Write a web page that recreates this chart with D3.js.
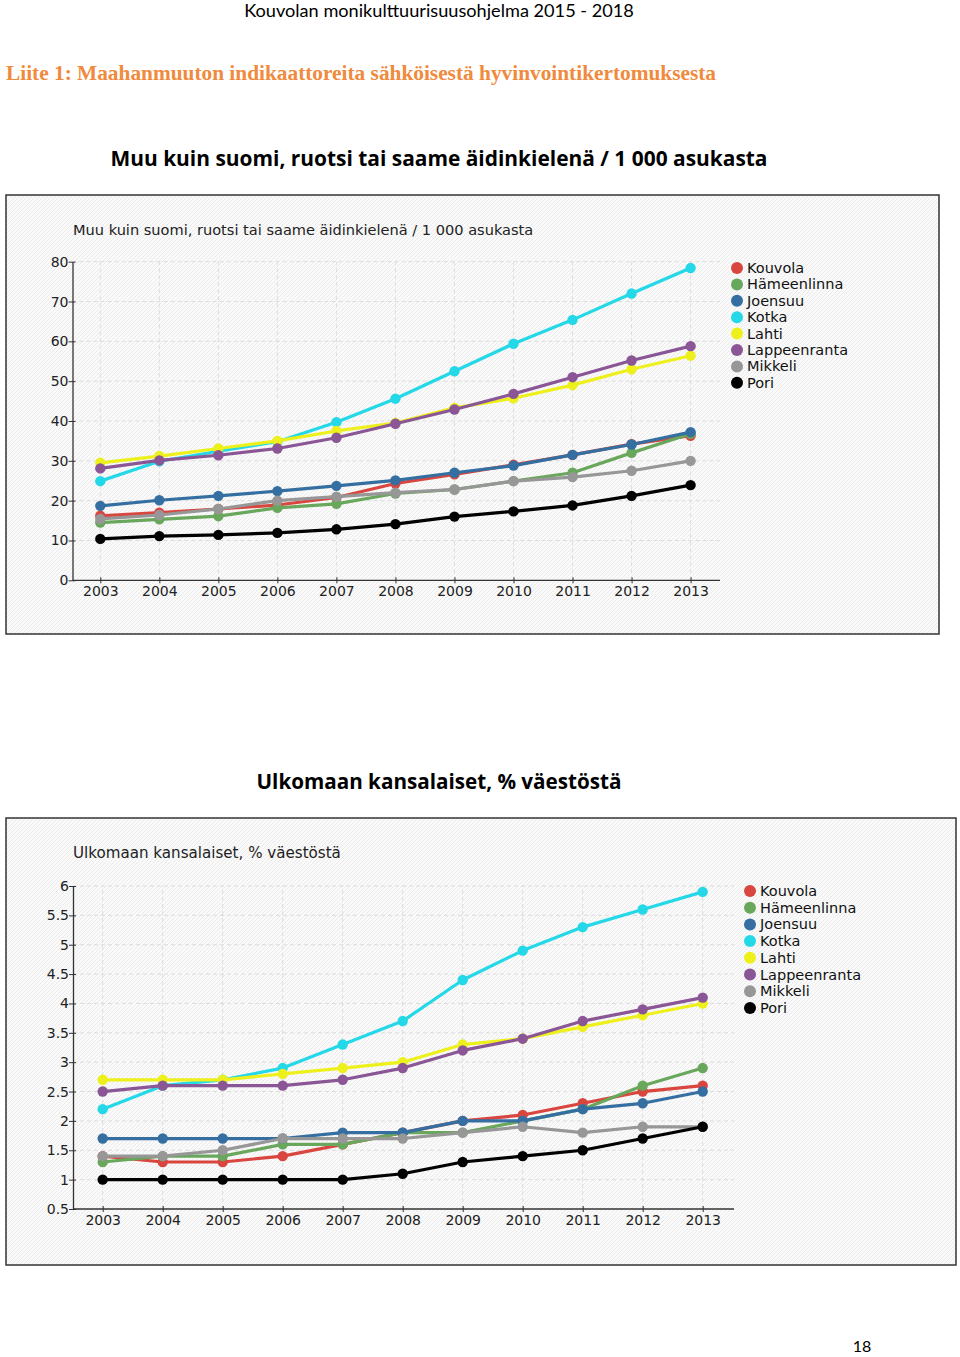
<!DOCTYPE html>
<html><head><meta charset="utf-8">
<script src="https://cdn.jsdelivr.net/npm/d3@7"></script>
<style>body{margin:0;background:#fff}svg{display:block}</style>
</head><body>
<script>
const years = [2003,2004,2005,2006,2007,2008,2009,2010,2011,2012,2013];
const cities = ["Kouvola","Hämeenlinna","Joensuu","Kotka","Lahti","Lappeenranta","Mikkeli","Pori"];
const colors = ["#d9463f","#69a75c","#356fa1","#24d8e8","#eef01c","#8a5696","#979797","#000000"];

// Chart 1: Muu kuin suomi, ruotsi tai saame äidinkielenä / 1 000 asukasta
const lang_Kouvola      = [16.2,17.0,17.9,18.9,20.8,24.3,26.6,29.0,31.5,34.2,36.3];
const lang_Hameenlinna  = [14.5,15.3,16.1,18.2,19.2,21.8,22.8,24.9,27.0,32.0,36.8];
const lang_Joensuu      = [18.7,20.1,21.2,22.4,23.7,25.1,27.0,28.8,31.5,34.1,37.2];
const lang_Kotka        = [24.9,29.9,32.4,34.8,39.7,45.6,52.5,59.4,65.4,72.0,78.4];
const lang_Lahti        = [29.5,31.2,33.1,35.0,37.5,39.5,43.3,45.7,49.0,53.0,56.4];
const lang_Lappeenranta = [28.1,30.1,31.4,33.1,35.8,39.3,42.9,46.8,51.0,55.2,58.8];
const lang_Mikkeli      = [15.4,16.4,17.9,20.0,21.0,22.0,22.8,24.9,25.9,27.5,30.0];
const lang_Pori         = [10.4,11.1,11.4,11.9,12.8,14.1,16.0,17.3,18.8,21.2,23.9];
const langTicks = [0,10,20,30,40,50,60,70,80];

// Chart 2: Ulkomaan kansalaiset, % väestöstä
const forn_Kouvola      = [1.4,1.3,1.3,1.4,1.6,1.8,2.0,2.1,2.3,2.5,2.6];
const forn_Hameenlinna  = [1.3,1.4,1.4,1.6,1.6,1.8,1.8,2.0,2.2,2.6,2.9];
const forn_Joensuu      = [1.7,1.7,1.7,1.7,1.8,1.8,2.0,2.0,2.2,2.3,2.5];
const forn_Kotka        = [2.2,2.6,2.7,2.9,3.3,3.7,4.4,4.9,5.3,5.6,5.9];
const forn_Lahti        = [2.7,2.7,2.7,2.8,2.9,3.0,3.3,3.4,3.6,3.8,4.0];
const forn_Lappeenranta = [2.5,2.6,2.6,2.6,2.7,2.9,3.2,3.4,3.7,3.9,4.1];
const forn_Mikkeli      = [1.4,1.4,1.5,1.7,1.7,1.7,1.8,1.9,1.8,1.9,1.9];
const forn_Pori         = [1.0,1.0,1.0,1.0,1.0,1.1,1.3,1.4,1.5,1.7,1.9];
const fornTicks = [0.5,1,1.5,2,2.5,3,3.5,4,4.5,5,5.5,6];

const langSeries = [lang_Kouvola,lang_Hameenlinna,lang_Joensuu,lang_Kotka,lang_Lahti,lang_Lappeenranta,lang_Mikkeli,lang_Pori];
const fornSeries = [forn_Kouvola,forn_Hameenlinna,forn_Joensuu,forn_Kotka,forn_Lahti,forn_Lappeenranta,forn_Mikkeli,forn_Pori];

const W = 960, H = 1357;
const svg = d3.select("body").append("svg").attr("width",W).attr("height",H);

const defs = svg.append("defs");
const pat = defs.append("pattern").attr("id","hatch").attr("patternUnits","userSpaceOnUse")
  .attr("width",4).attr("height",4);
pat.append("rect").attr("width",4).attr("height",4).attr("fill","#fafafa");
pat.append("path").attr("d","M-1,1 l2,-2 M0,4 l4,-4 M3,5 l2,-2").attr("stroke","#ebebeb").attr("stroke-width",1);

function fitText(t, target){
  let fs = parseFloat(t.attr("font-size"));
  for(let i=0;i<3;i++){
    const w = t.node().getComputedTextLength();
    fs = fs*target/w;
    t.attr("font-size",fs);
  }
}

// Page header texts
fitText(svg.append("text").attr("x",439).attr("y",17).attr("text-anchor","middle")
  .attr("font-family","Lato, 'Open Sans', sans-serif").attr("font-size",17).attr("fill","#000")
  .text("Kouvolan monikulttuurisuusohjelma 2015 - 2018"), 390);

fitText(svg.append("text").attr("x",6).attr("y",80)
  .attr("font-family","'Liberation Serif', serif").attr("font-weight","bold").attr("font-size",19).attr("fill","#f08a3c")
  .text("Liite 1: Maahanmuuton indikaattoreita sähköisestä hyvinvointikertomuksesta"), 710);

fitText(svg.append("text").attr("x",439).attr("y",166).attr("text-anchor","middle")
  .attr("font-family","'Open Sans', sans-serif").attr("font-weight","bold").attr("font-size",21).attr("fill","#000")
  .text("Muu kuin suomi, ruotsi tai saame äidinkielenä / 1 000 asukasta"), 657);

fitText(svg.append("text").attr("x",439).attr("y",789).attr("text-anchor","middle")
  .attr("font-family","'Open Sans', sans-serif").attr("font-weight","bold").attr("font-size",21).attr("fill","#000")
  .text("Ulkomaan kansalaiset, % väestöstä"), 365);

svg.append("text").attr("x",862).attr("y",1352).attr("text-anchor","middle")
  .attr("font-family","Lato, sans-serif").attr("font-size",16).attr("fill","#000").text("18");

function drawChart(cfg){
  const g = svg.append("g");
  g.append("rect").attr("x",cfg.frame[0]).attr("y",cfg.frame[1]).attr("width",cfg.frame[2]).attr("height",cfg.frame[3])
    .attr("fill","url(#hatch)").attr("stroke","#333").attr("stroke-width",1.5);
  const x = d3.scaleLinear().domain([years[0],years[years.length-1]]).range(cfg.xr);
  const y = d3.scaleLinear().domain([cfg.ticks[0],cfg.ticks[cfg.ticks.length-1]]).range(cfg.yr);
  const axX0 = cfg.axisX, axX1 = cfg.axisEnd;
  // title
  fitText(g.append("text").attr("x",cfg.frame[0]+67).attr("y",cfg.titleY)
    .attr("font-family","'DejaVu Sans', Verdana, sans-serif").attr("font-size",14).attr("fill","#222")
    .text(cfg.title), cfg.titleW);
  // grid
  const grid = g.append("g").attr("stroke","#dcdcdc").attr("stroke-width",1).attr("stroke-dasharray","4,3");
  grid.selectAll("line.h").data(cfg.ticks.slice(1)).join("line")
    .attr("x1",axX0).attr("x2",axX1).attr("y1",d=>y(d)).attr("y2",d=>y(d));
  grid.selectAll("line.v").data(years).join("line")
    .attr("x1",d=>x(d)).attr("x2",d=>x(d)).attr("y1",y(cfg.ticks[0])).attr("y2",y(cfg.ticks[cfg.ticks.length-1]));
  // y axis
  const ya = g.append("g").attr("transform",`translate(${axX0},0)`)
    .call(d3.axisLeft(y).tickValues(cfg.ticks).tickSize(4).tickSizeOuter(0).tickFormat(d3.format("")));
  ya.select(".domain").attr("stroke","#333").attr("stroke-width",1.3);
  ya.selectAll(".tick line").attr("x1",-4).attr("x2",3).attr("stroke","#333");
  ya.selectAll(".tick text").attr("font-family","'DejaVu Sans', Verdana, sans-serif").attr("font-size",14).attr("fill","#222").attr("x",-4);
  // x axis
  const xa = g.append("g").attr("transform",`translate(0,${y(cfg.ticks[0])})`);
  xa.append("line").attr("x1",axX0).attr("x2",axX1).attr("stroke","#333").attr("stroke-width",1.3);
  xa.call(d3.axisBottom(x).tickValues(years).tickFormat(d3.format("d")).tickSize(3).tickSizeOuter(0));
  xa.select(".domain").remove();
  xa.selectAll(".tick line").attr("y1",-3).attr("y2",3).attr("stroke","#333");
  xa.selectAll(".tick text").attr("font-family","'DejaVu Sans', Verdana, sans-serif").attr("font-size",14).attr("fill","#222").attr("dy","0.72em");
  // series
  const line = d3.line().x((d,i)=>x(years[i])).y(d=>y(d));
  cfg.series.forEach((s,k)=>{
    const sg = g.append("g");
    sg.append("path").attr("d",line(s)).attr("fill","none").attr("stroke",colors[k]).attr("stroke-width",3.2).attr("stroke-linejoin","round");
    sg.selectAll("circle").data(s).join("circle").attr("cx",(d,i)=>x(years[i])).attr("cy",d=>y(d)).attr("r",5.2).attr("fill",colors[k]);
  });
  // legend
  const lg = g.append("g");
  cities.forEach((c,k)=>{
    const ly = cfg.legY + k*cfg.legStep;
    lg.append("circle").attr("cx",cfg.legX).attr("cy",ly).attr("r",6).attr("fill",colors[k]);
    lg.append("text").attr("x",cfg.legX+10).attr("y",ly).attr("dy","0.35em")
      .attr("font-family","'DejaVu Sans', Verdana, sans-serif").attr("font-size",14.5).attr("fill","#111").text(c);
  });
}

drawChart({
  frame:[6,195,933,439], xr:[100.3,690.6], yr:[580.3,261.7], ticks:langTicks,
  axisX:72.5, axisEnd:720, title:"Muu kuin suomi, ruotsi tai saame äidinkielenä / 1 000 asukasta",
  titleY:235, titleW:460, series:langSeries, legX:737, legY:268, legStep:16.4
});
drawChart({
  frame:[6,818,950,447], xr:[102.7,702.7], yr:[1209,886], ticks:fornTicks,
  axisX:73, axisEnd:734, title:"Ulkomaan kansalaiset, % väestöstä",
  titleY:858, titleW:268, series:fornSeries, legX:750, legY:891, legStep:16.7
});
</script>
</body></html>
